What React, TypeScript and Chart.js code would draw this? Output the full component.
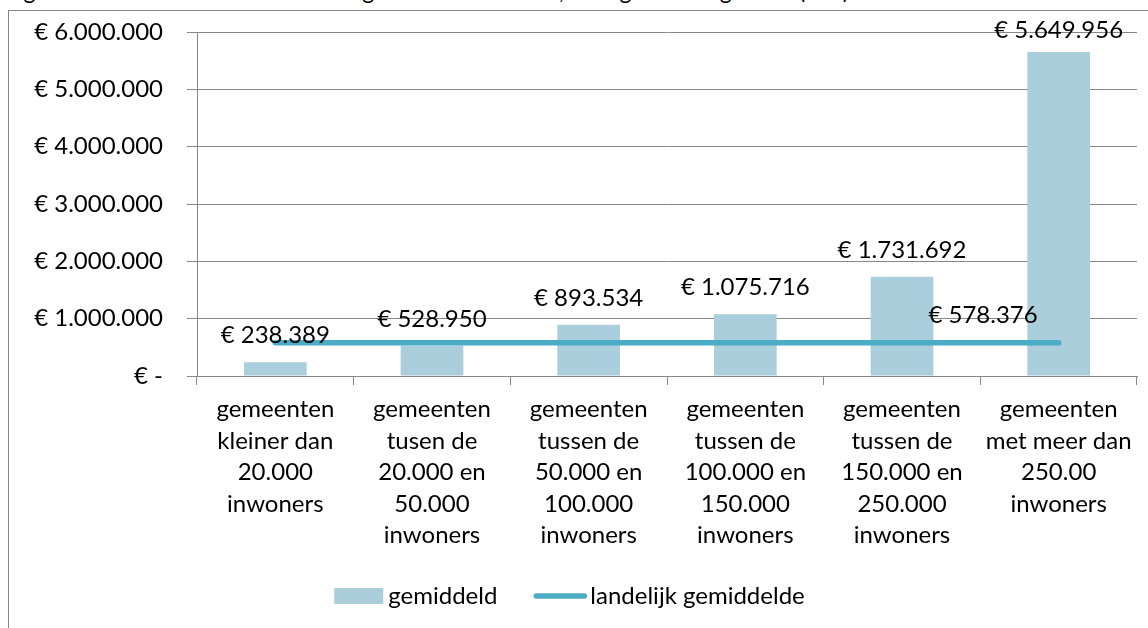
import React, { useEffect, useRef } from "react";
import { Chart, registerables } from "chart.js";

Chart.register(...registerables);

const titleText = "Figuur 5: Gemiddelde kosten leerlingenvervoer in 2011, naar gemeentegrootte (in €)";

const categories: string[][] = [
  ["gemeenten", "kleiner dan", "20.000", "inwoners"],
  ["gemeenten", "tusen de", "20.000 en", "50.000", "inwoners"],
  ["gemeenten", "tussen de", "50.000 en", "100.000", "inwoners"],
  ["gemeenten", "tussen de", "100.000 en", "150.000", "inwoners"],
  ["gemeenten", "tussen de", "150.000 en", "250.000", "inwoners"],
  ["gemeenten", "met meer dan", "250.00", "inwoners"],
];

const gemiddeld = [238389, 528950, 893534, 1075716, 1731692, 5649956];
const landelijkGemiddelde = [578376, 578376, 578376, 578376, 578376, 578376];
const seriesNames = ["gemiddeld", "landelijk gemiddelde"];

const yMin = 0;
const yMax = 6000000;
const yStep = 1000000;

const BAR_COLOR = "#AACEDC";
const LINE_COLOR = "#4BACC6";
const GRID_COLOR = "#878787";
const FONT = "Lato";
const FONT_SIZE = 24;

function fmtEuro(n: number): string {
  return "€ " + String(Math.round(n)).replace(/\B(?=(\d{3})+(?!\d))/g, ".");
}
function tickFmt(n: number): string {
  return n === 0 ? "€ -" : fmtEuro(n);
}

export default function App() {
  const ref = useRef<HTMLCanvasElement>(null);

  useEffect(() => {
    if (!ref.current) return;

    const labelPlugin = {
      id: "valueLabelsAndLegend",
      afterDatasetsDraw(chart: any) {
        const ctx = chart.ctx as CanvasRenderingContext2D;
        ctx.save();
        ctx.font = `${FONT_SIZE}px ${FONT}`;
        ctx.fillStyle = "#000";
        ctx.textBaseline = "alphabetic";

        const barMeta = chart.getDatasetMeta(0);
        barMeta.data.forEach((el: any, i: number) => {
          ctx.textAlign = "center";
          const y = Math.max(el.y - 19, chart.chartArea.top + 6);
          ctx.fillText(fmtEuro(gemiddeld[i]), el.x, y);
        });

        const lineMeta = chart.getDatasetMeta(1);
        const lastIdx = lineMeta.data.length - 1;
        const last = lineMeta.data[lastIdx];
        ctx.textAlign = "right";
        ctx.fillText(fmtEuro(landelijkGemiddelde[lastIdx]), last.x - 21, last.y - 20);

        // legend
        ctx.textAlign = "left";
        const w1 = ctx.measureText(seriesNames[0]).width;
        const w2 = ctx.measureText(seriesNames[1]).width;
        const total = 49 + 5 + w1 + 36 + 54 + 3 + w2;
        let x = chart.width / 2 - total / 2 - 9;
        const cy = 585;
        ctx.fillStyle = BAR_COLOR;
        ctx.fillRect(x, cy - 8, 49, 16);
        x += 49 + 5;
        ctx.fillStyle = "#000";
        ctx.textBaseline = "middle";
        ctx.fillText(seriesNames[0], x, cy);
        x += w1 + 36;
        ctx.strokeStyle = LINE_COLOR;
        ctx.lineWidth = 5.5;
        ctx.lineCap = "round";
        ctx.beginPath();
        ctx.moveTo(x + 3, cy);
        ctx.lineTo(x + 51, cy);
        ctx.stroke();
        x += 54 + 3;
        ctx.fillText(seriesNames[1], x, cy);
        ctx.restore();
      },
    };

    const chart = new Chart(ref.current, {
      type: "bar",
      data: {
        labels: categories,
        datasets: [
          {
            type: "bar",
            label: seriesNames[0],
            data: gemiddeld,
            backgroundColor: BAR_COLOR,
            barPercentage: 0.4,
            categoryPercentage: 1,
            order: 1,
          },
          {
            type: "line",
            label: seriesNames[1],
            data: landelijkGemiddelde,
            borderColor: LINE_COLOR,
            backgroundColor: LINE_COLOR,
            borderWidth: 5.5,
            borderCapStyle: "round",
            pointRadius: 0,
            fill: false,
            order: 0,
          } as any,
        ],
      },
      options: {
        responsive: false,
        animation: false,
        layout: { padding: { top: 21, right: 11, left: 0, bottom: 0 } },
        plugins: {
          legend: { display: false },
          tooltip: { enabled: false },
          title: { display: false },
        },
        scales: {
          x: {
            offset: true,
            grid: {
              offset: true,
              drawOnChartArea: false,
              drawTicks: true,
              tickLength: 9,
              color: GRID_COLOR,
            },
            border: { display: true, color: GRID_COLOR },
            ticks: {
              font: { family: FONT, size: FONT_SIZE, lineHeight: 1.31 },
              color: "#000",
              padding: 9,
              maxRotation: 0,
              autoSkip: false,
            },
            afterFit: (s: any) => {
              s.height = 252;
            },
          },
          y: {
            min: yMin,
            max: yMax,
            ticks: {
              stepSize: yStep,
              callback: (v: any) => tickFmt(Number(v)),
              font: { family: FONT, size: FONT_SIZE },
              color: "#000",
              padding: 24,
            },
            grid: { color: GRID_COLOR, tickLength: 10, drawTicks: true },
            border: { display: true, color: GRID_COLOR },
            afterFit: (s: any) => {
              s.width = 188;
              s.paddingTop = 0;
              s.paddingBottom = 0;
            },
          },
        },
      },
      plugins: [labelPlugin],
    } as any);

    return () => chart.destroy();
  }, []);

  return (
    <div style={{ position: "fixed", inset: 0, overflow: "hidden", background: "#fff" }}>
      <div
        style={{
          position: "absolute",
          left: 5,
          top: -21,
          fontFamily: FONT,
          fontSize: 23,
          lineHeight: "23px",
          whiteSpace: "nowrap",
          color: "#000",
        }}
      >
        {titleText}
      </div>
      <div
        style={{
          position: "absolute",
          left: 8,
          top: 10,
          width: 1200,
          height: 700,
          border: `1px solid ${GRID_COLOR}`,
        }}
      >
        <canvas ref={ref} width={1139} height={617} style={{ display: "block" }} />
      </div>
    </div>
  );
}
